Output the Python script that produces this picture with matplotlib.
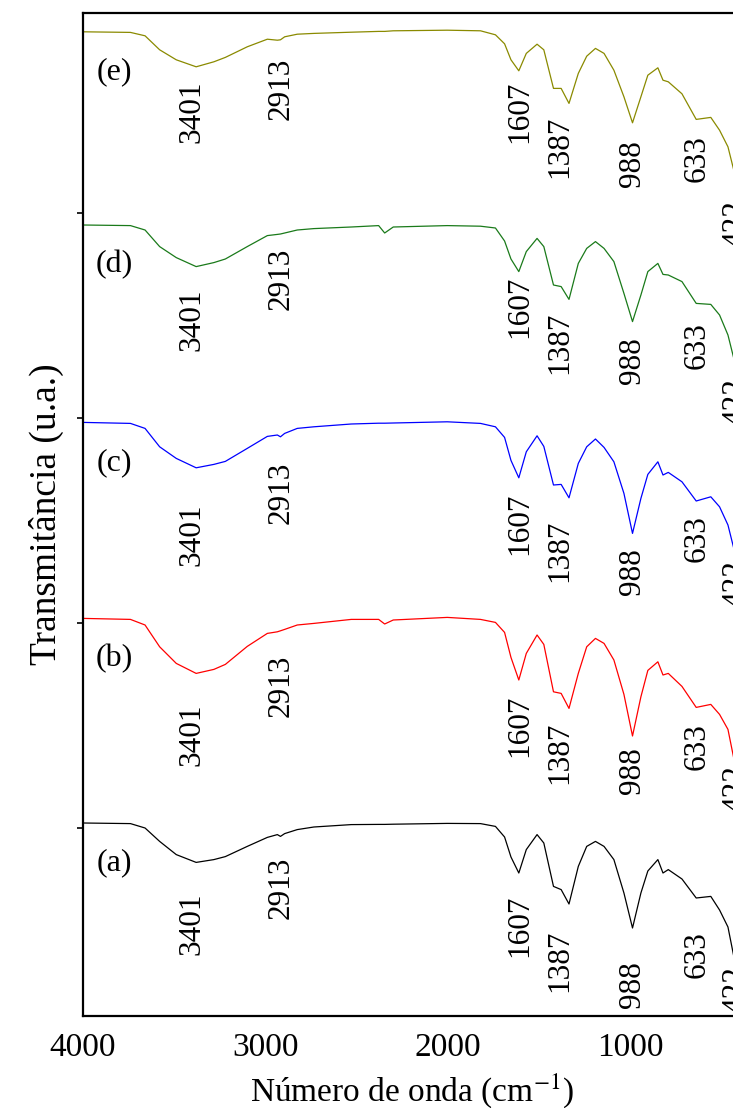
import matplotlib.pyplot as plt
from matplotlib.ticker import MultipleLocator
import numpy as np

# --- Dati ---
numero_onda = [4000, 3740, 3660, 3580, 3489, 3380, 3283, 3220, 3100, 2990,
               2935, 2918, 2895, 2826, 2735, 2530, 2380, 2347, 2300, 2004,
               1822, 1740, 1690, 1655, 1612, 1571, 1512, 1475, 1422, 1380,
               1337, 1286, 1240, 1192, 1145, 1091, 1036, 989, 943, 905,
               850, 822, 793, 718, 640, 560, 512, 466, 434, 400]

trans_a = [100, 99.7, 97.5, 90.8, 84.2, 80.3, 81.7, 83.2, 88.3, 92.8,
           94.2, 93.3, 94.7, 96.7, 98.0, 99.2, 99.3, 99.3, 99.4, 99.8,
           99.7, 98.3, 93.0, 83.0, 75.0, 86.7, 94.2, 90.0, 68.3, 66.7,
           59.5, 78.3, 88.3, 90.8, 88.3, 81.7, 65.0, 47.5, 65.0, 76.0,
           81.7, 75.0, 76.7, 72.0, 62.5, 63.3, 56.5, 48.0, 33.3, 25.0]

trans_b = [100, 99.5, 96.7, 85.8, 77.5, 72.5, 74.5, 77.0, 86.0, 92.5,
           93.3, 93.8, 94.5, 96.7, 97.5, 99.5, 99.5, 97.2, 99.2, 100.5,
           99.5, 98.0, 93.0, 80.5, 69.2, 82.5, 91.7, 87.0, 63.3, 62.5,
           55.0, 72.5, 85.8, 90.0, 87.5, 79.2, 62.0, 41.2, 60.8, 74.0,
           78.3, 71.7, 72.5, 66.0, 55.5, 57.0, 52.0, 44.5, 30.0, 20.0]

trans_c = [100, 99.5, 97.0, 87.8, 82.0, 77.3, 79.0, 80.5, 87.0, 93.0,
           93.7, 92.8, 94.5, 97.0, 97.8, 99.2, 99.6, 99.6, 99.7, 100.3,
           99.5, 97.8, 92.5, 81.0, 72.3, 85.3, 93.3, 88.0, 68.7, 69.0,
           62.3, 79.5, 87.8, 91.7, 87.5, 80.3, 64.5, 44.5, 62.0, 74.0,
           80.3, 73.7, 75.0, 70.3, 60.7, 62.8, 57.8, 48.7, 37.0, 28.0]

trans_d = [100, 99.7, 97.5, 89.2, 83.7, 79.2, 81.2, 83.0, 89.2, 94.7,
           95.3, 95.5, 96.0, 97.5, 98.2, 99.0, 99.7, 96.0, 99.0, 99.7,
           99.4, 98.5, 92.0, 83.0, 76.7, 86.7, 93.3, 89.2, 70.0, 69.2,
           62.8, 80.8, 88.3, 91.7, 88.3, 81.7, 65.8, 51.7, 65.0, 76.7,
           80.8, 75.3, 75.0, 71.7, 60.8, 60.3, 55.0, 45.0, 33.3, 25.0]

trans_e = [100, 99.7, 98.0, 91.0, 86.0, 82.5, 85.0, 87.2, 92.5, 96.3,
           95.8, 96.0, 97.5, 98.8, 99.2, 99.8, 100.2, 100.2, 100.5, 100.8,
           100.5, 98.5, 94.0, 86.0, 80.5, 89.2, 93.8, 91.0, 71.7, 71.7,
           64.2, 79.2, 87.8, 91.7, 89.2, 80.8, 67.5, 54.5, 67.5, 78.3,
           82.0, 75.8, 75.0, 69.0, 56.2, 57.2, 50.8, 42.5, 30.8, 18.0]

spostamenti = [5, 107.3, 205.3, 304, 400.6]
etichette = ['(a)', '(b)', '(c)', '(d)', '(e)']
colori = ['black', 'red', 'blue', '#1a7a1a', '#8a8a00']

# bande marcate e altezza (bordo superiore) delle etichette per ogni spettro
bande = [3401, 2913, 1607, 1387, 988, 633, 422]
alt_bande_a = [65.2, 83.2, 64.2, 46.7, 30.7, 45.7, 28.2]
alt_bande_b = [57.7, 81.7, 61.7, 48.2, 35.7, 47.7, 26.5]
alt_bande_c = [59.6, 80.2, 65.0, 51.2, 37.2, 53.7, 31.2]
alt_bande_d = [68.5, 88.5, 74.5, 56.5, 44.0, 51.5, 23.5]
alt_bande_e = [75.8, 87.3, 75.8, 58.3, 45.8, 48.3, 15.8]
# ---------------------

plt.rcParams['font.family'] = ['Liberation Serif', 'DejaVu Serif']
plt.rcParams['mathtext.fontset'] = 'stix'

fig = plt.figure(figsize=(7.33, 11.08), dpi=100)
ax = fig.add_axes([83 / 733, 92 / 1108, 657 / 733, 1003 / 1108])

serie = [trans_a, trans_b, trans_c, trans_d, trans_e]
alt_bande = [alt_bande_a, alt_bande_b, alt_bande_c, alt_bande_d, alt_bande_e]

for vals, alt, off, lab, col in zip(serie, alt_bande, spostamenti, etichette, colori):
    ax.plot(numero_onda, np.array(vals) + off, color=col, linewidth=0.9)
    ax.text(3830, off + 80, lab, ha='center', va='center', fontsize=23)
    for b, h in zip(bande, alt):
        ax.text(b, h + off, str(b), rotation=90, ha='center', va='top',
                fontsize=22.5, clip_on=False)

ax.set_xlim(4000, 400)
ax.set_ylim(8.5, 510)
ax.xaxis.set_major_locator(MultipleLocator(1000))
ax.yaxis.set_major_locator(MultipleLocator(102.5))
ax.tick_params(axis='x', length=0, labelsize=24, pad=12)
ax.tick_params(axis='y', length=4, width=1.2, labelleft=False)
for s in ax.spines.values():
    s.set_linewidth(1.6)

ax.set_xlabel('Número de onda (cm$^{-1}$)', fontsize=24, labelpad=6)
ax.set_ylabel('Transmitância (u.a.)', fontsize=27, labelpad=10)

fig.savefig('out.png', dpi=100)
